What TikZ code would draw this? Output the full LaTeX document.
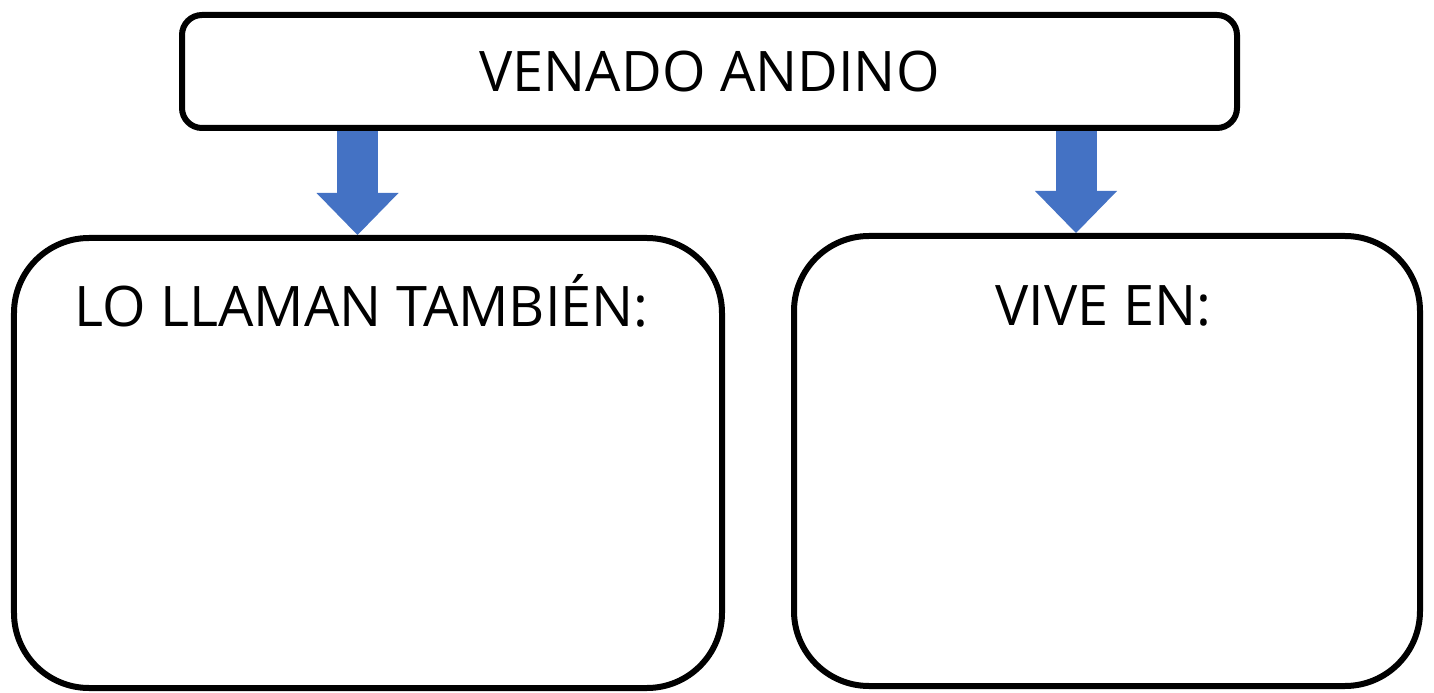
\documentclass[tikz,border=0pt]{standalone}
\usepackage{fontspec}
\setmainfont{Open Sans}
\usepackage{tikz}
\usetikzlibrary{arrows.meta,backgrounds}
\definecolor{arrowblue}{HTML}{4472C4}

\begin{document}
\begin{tikzpicture}[title/.style={rectangle, draw=black, line width=0.06cm, rounded corners=0.2cm, minimum width=10.55cm, minimum height=1.13cm, font=\fontsize{15.9}{19}\selectfont},
		answer/.style={rectangle, draw=black, line width=0.06cm, rounded corners=0.75cm, minimum height=4.5cm},
		heading/.style={inner sep=0pt, anchor=base, font=\fontsize{15.9}{19}\selectfont},
		blockarrow/.style={draw=arrowblue, line width=0.41cm, -{Triangle[length=0.42cm, width=0.82cm, line width=0pt]}}]
		\useasboundingbox (0,0) rectangle (14.34,-6.93);
		\node[title] (venado) at (7.095,-0.715) {VENADO ANDINO};
		\node[answer, minimum width=7.08cm] (llaman) at (3.68,-4.63) {};
		\node[answer, minimum width=6.26cm] (vive) at (11.07,-4.61) {};
		\node[heading, xshift=-0.065cm, yshift=-0.92cm] (llamanlbl) at (llaman.north) {LO LLAMAN TAMBIÉN:};
		\node[heading, xshift=-0.035cm, yshift=-0.93cm] (vivelbl) at (vive.north) {VIVE EN:};
		\coordinate (a1) at (3.575,0);
		\coordinate (a2) at (10.76,0);
		
		\begin{scope}[on background layer]
		\path (venado.south -| a1) edge[blockarrow] (a1 |- llaman.north);
		\path (venado.south -| a2) edge[blockarrow] (a2 |- vive.north);
		\end{scope}
		
	\end{tikzpicture}
\end{document}
